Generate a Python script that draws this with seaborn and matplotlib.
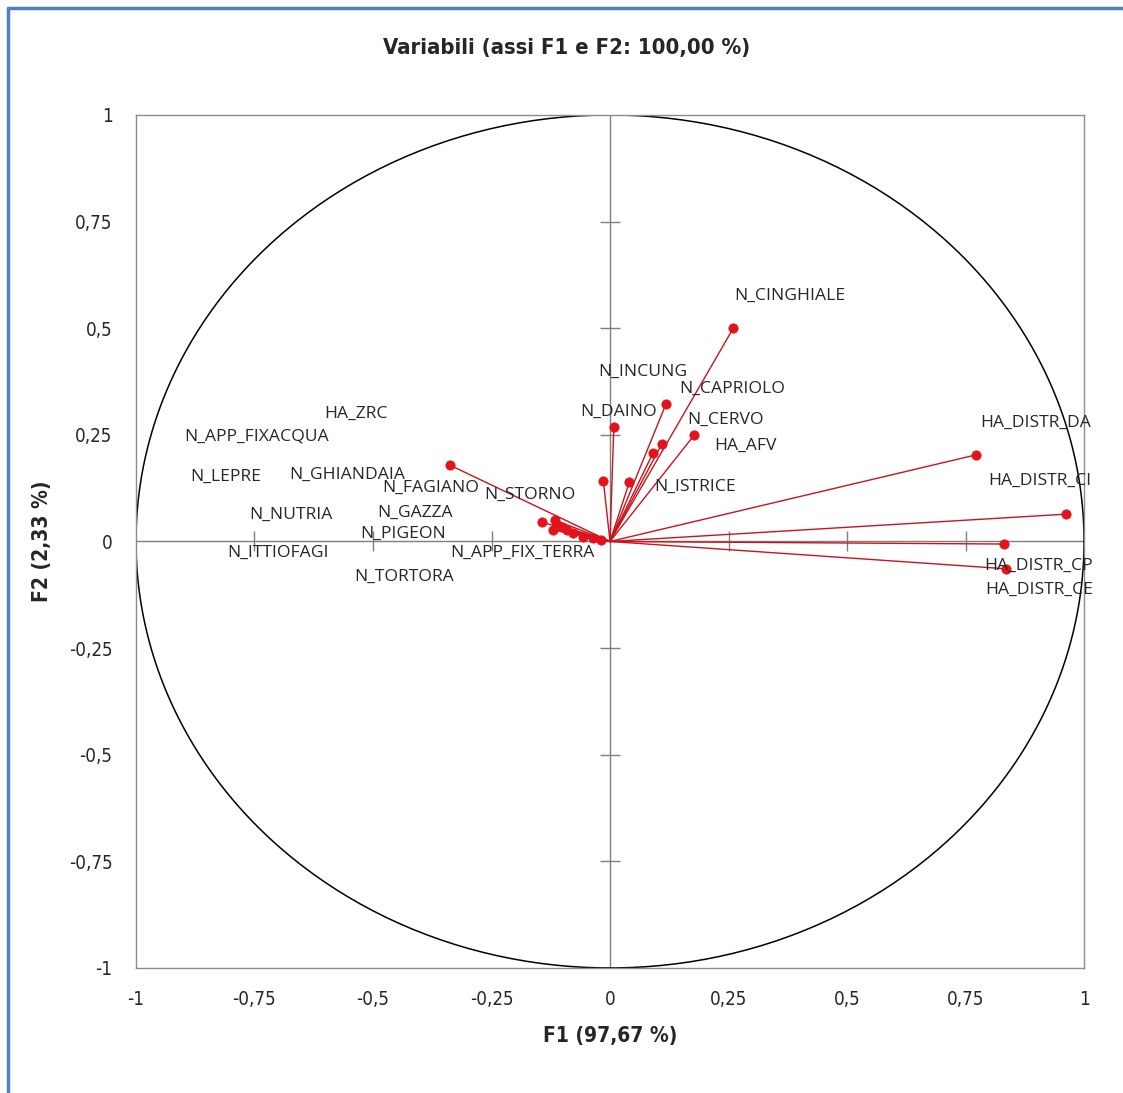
import numpy as np
import pandas as pd
import seaborn as sns
import matplotlib.pyplot as plt
from matplotlib.lines import Line2D

# variabili e coordinate sui fattori F1 / F2
variabili = ['HA_DISTR_DA', 'HA_DISTR_CI', 'HA_DISTR_CP', 'HA_DISTR_CE', 'N_CINGHIALE',
             'N_DAINO', 'N_INCUNG', 'N_CERVO', 'N_CAPRIOLO', 'HA_AFV', 'N_STORNO', 'N_ISTRICE',
             'HA_ZRC', 'N_APP_FIXACQUA', 'N_LEPRE', 'N_GHIANDAIA', 'N_FAGIANO', 'N_GAZZA',
             'N_NUTRIA', 'N_PIGEON', 'N_ITTIOFAGI', 'N_APP_FIX_TERRA', 'N_TORTORA']
f1 = [0.772, 0.962, 0.831, 0.835, 0.260,
      0.008, 0.118, 0.178, 0.109, 0.091, -0.014, 0.041,
      -0.338, -0.143, -0.116, -0.112, -0.102, -0.120,
      -0.091, -0.078, -0.057, -0.036, -0.018]
f2 = [0.203, 0.064, -0.006, -0.064, 0.500,
      0.268, 0.322, 0.250, 0.228, 0.208, 0.142, 0.140,
      0.179, 0.045, 0.050, 0.039, 0.035, 0.027,
      0.027, 0.020, 0.011, 0.008, 0.004]

# posizione delle etichette (come nel grafico originale)
etichette_pos = {
    'N_CINGHIALE': (0.380, 0.576), 'N_INCUNG': (0.070, 0.397), 'N_CAPRIOLO': (0.257, 0.358),
    'N_DAINO': (0.019, 0.304), 'N_CERVO': (0.243, 0.285), 'HA_AFV': (0.285, 0.225),
    'N_ISTRICE': (0.179, 0.128), 'HA_DISTR_DA': (0.899, 0.278), 'HA_DISTR_CI': (0.907, 0.142),
    'HA_DISTR_CP': (0.905, -0.057), 'HA_DISTR_CE': (0.905, -0.114), 'HA_ZRC': (-0.536, 0.299),
    'N_APP_FIXACQUA': (-0.745, 0.245), 'N_LEPRE': (-0.810, 0.151), 'N_GHIANDAIA': (-0.555, 0.156),
    'N_FAGIANO': (-0.378, 0.125), 'N_STORNO': (-0.169, 0.109), 'N_GAZZA': (-0.411, 0.067),
    'N_NUTRIA': (-0.673, 0.062), 'N_PIGEON': (-0.437, 0.018), 'N_ITTIOFAGI': (-0.700, -0.027),
    'N_APP_FIX_TERRA': (-0.184, -0.027), 'N_TORTORA': (-0.435, -0.083),
}

ticks = [-1, -0.75, -0.5, -0.25, 0, 0.25, 0.5, 0.75, 1]
tick_labels = ['-1', '-0,75', '-0,5', '-0,25', '0', '0,25', '0,5', '0,75', '1']

sns.set_style('white')
plt.rcParams['font.family'] = ['DejaVu Sans']
plt.rcParams['font.stretch'] = 'condensed'

df = pd.DataFrame({'var': variabili, 'F1': f1, 'F2': f2})
# segmenti dall'origine
origine = pd.DataFrame({'var': variabili, 'F1': 0.0, 'F2': 0.0})
seg = pd.concat([origine, df], ignore_index=True)

fig = plt.figure(figsize=(11.23, 10.93), dpi=100)
ax = fig.add_axes([0.1211, 0.1144, 0.8442, 0.7804])

# assi centrali con tacche
ax.axhline(0, color='#7f7f7f', lw=1, zorder=1)
ax.axvline(0, color='#7f7f7f', lw=1, zorder=1)
tt = [t for t in ticks if t not in (-1, 0, 1)]
ax.plot(tt, [0] * len(tt), ls='none', marker='|', ms=14, color='#7f7f7f', mew=1)
ax.plot([0] * len(tt), tt, ls='none', marker='_', ms=14, color='#7f7f7f', mew=1)

# cerchio delle correlazioni
th = np.linspace(0, 2 * np.pi, 400)
ax.plot(np.cos(th), np.sin(th), color='black', lw=1.1, zorder=2)

sns.lineplot(data=seg, x='F1', y='F2', units='var', estimator=None, sort=False,
             color='#c8141c', lw=1, ax=ax, zorder=3)
sns.scatterplot(data=df, x='F1', y='F2', color='#e3121b', s=45, edgecolor='#e3121b',
                ax=ax, zorder=4)

for nome in variabili:
    lx, ly = etichette_pos[nome]
    ax.text(lx, ly, nome, ha='center', va='center', fontsize=12.6,
            family=['Open Sans', 'DejaVu Sans'], fontstretch='normal',
            color='#262626', zorder=5)

ax.set_xlim(-1, 1)
ax.set_ylim(-1, 1)
ax.set_xticks(ticks)
ax.set_xticklabels(tick_labels)
ax.set_yticks(ticks)
ax.set_yticklabels(tick_labels)
ax.tick_params(length=0, labelsize=13.5, colors='#262626')
ax.tick_params(axis='x', pad=16)
ax.tick_params(axis='y', pad=17)
for s in ax.spines.values():
    s.set_color('#8c8c8c')
    s.set_linewidth(1)

ax.set_xlabel('F1 (97,67 %)', fontsize=15, fontweight='bold', labelpad=12)
ax.set_ylabel('F2 (2,33 %)', fontsize=15, fontweight='bold', labelpad=12)
fig.text(0.505, 1 - 48 / 1093, 'Variabili (assi F1 e F2: 100,00 %)', ha='center', va='center',
         fontsize=15.8, fontweight='bold')

# bordo blu
fig.add_artist(Line2D([8 / 1123, 1.0], [1 - 8 / 1093, 1 - 8 / 1093], color='#4f81bd', lw=2.5))
fig.add_artist(Line2D([8 / 1123, 8 / 1123], [0.0, 1 - 8 / 1093], color='#4f81bd', lw=2.5))

plt.savefig('out.png', dpi=100)
